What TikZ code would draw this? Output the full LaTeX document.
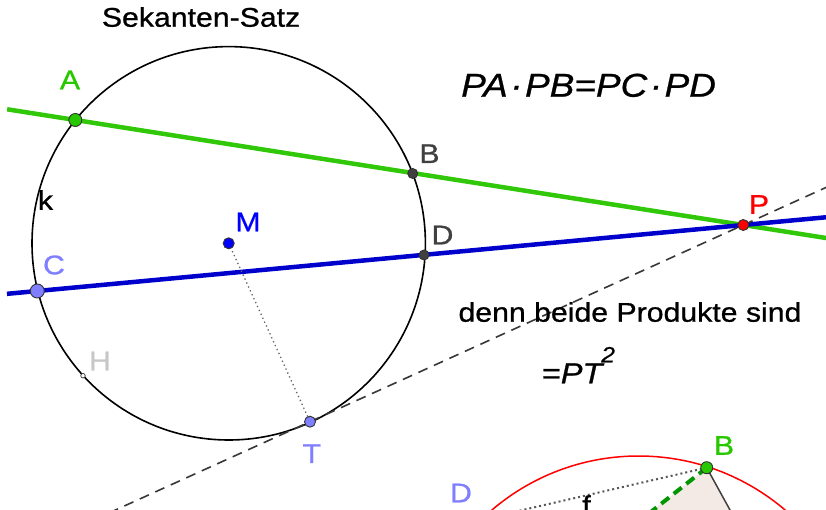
\documentclass[tikz,border=0pt]{standalone}
\usepackage{fontspec}
\newfontfamily\geofont[FakeStretch=1.12,FakeBold=0.8]{Liberation Sans}
\usetikzlibrary{calc}
\definecolor{secgreen}{RGB}{50,200,10}
\definecolor{secblue}{RGB}{0,0,205}
\definecolor{ptgreen}{RGB}{40,200,0}
\definecolor{ptdark}{RGB}{64,64,64}
\definecolor{ptlight}{RGB}{127,127,255}
\definecolor{chordgreen}{RGB}{0,150,0}
\definecolor{wedgefill}{RGB}{243,233,229}
\begin{document}
\begin{tikzpicture}[x=1pt,y=-1pt,
  pnt/.style={circle,draw=black!80,line width=0.9pt,fill=#1,inner sep=0pt,minimum size=10pt},
  lbl/.style={font={\geofont\fontsize{27}{30}\selectfont},inner sep=0pt},
  txt/.style={font={\geofont\fontsize{27}{30}\selectfont},inner sep=0pt,anchor=base west},
  secant/.style={line width=4.5pt,#1},
  tangent/.style={line width=1.6pt,black!78,dash pattern=on 10pt off 7pt},
  radius line/.style={line width=1.3pt,black!60,dash pattern=on 1.3pt off 3pt}]
\clip (0,0) rectangle (826,510);
\fill[white] (0,0) rectangle (826,510);
\coordinate (M) at (228.7,243.3);
\coordinate (A) at (75.3,120);
\coordinate (B) at (412.7,173.5);
\coordinate (C) at (37.3,291);
\coordinate (D) at (424,255);
\coordinate (P) at (743.3,225);
\coordinate (T) at (310,421.7);
\coordinate (H) at (83,375.7);
\draw[line width=1.6pt] (M) circle[radius=196.7];
\draw[secant=secgreen] ($(A)!-0.102!(P)$) -- ($(P)!-0.124!(A)$);
\draw[secant=secblue] ($(C)!-0.043!(P)$) -- ($(P)!-0.117!(C)$);
\draw[tangent] ($(T)!-0.5!(P)$) -- ($(P)!-0.3!(T)$);
\draw[radius line] (M) -- (T);
\node[pnt=ptgreen,minimum size=13pt] (pA) at (A) {};
\node[pnt=ptdark,minimum size=10pt] (pB) at (B) {};
\node[pnt=ptdark,minimum size=10pt] (pD) at (D) {};
\node[pnt=ptlight,minimum size=14pt] (pC) at (C) {};
\node[pnt=ptlight,minimum size=11pt] (pT) at (T) {};
\node[pnt=blue,minimum size=11pt] (pM) at (M) {};
\node[pnt=red,minimum size=11pt] (pP) at (P) {};
\node[pnt=white,minimum size=4.5pt,line width=0.7pt] (pH) at (H) {};
\node[lbl,text=ptgreen] (lA) at (70,80) {A};
\node[lbl,text=ptdark] (lB) at (429.5,153.7) {B};
\node[lbl] (lk) at (45.5,200) {k};
\node[lbl,text=blue] (lM) at (248,222) {M};
\node[lbl,text=ptdark] (lD) at (442.5,235) {D};
\node[lbl,text=red] (lP) at (759,204.5) {P};
\node[lbl,text=ptlight] (lC) at (54,265) {C};
\node[lbl,text=black!22] (lH) at (100,361) {H};
\node[lbl,text=ptlight] (lT) at (311.7,453.7) {T};
\node[txt] (title) at (101.7,26.7) {Sekanten-Satz};
\node[txt,font={\geofont\fontsize{33}{36}\selectfont\itshape}] (law) at (461,96.7)
  {PA\kern2.5pt·\kern2.5pt PB=PC\kern2.5pt·\kern2.5pt PD};
\node[txt] (note) at (458.3,321.7) {denn beide Produkte sind};
\node[txt,font={\geofont\fontsize{29}{32}\selectfont}] (square) at (541.7,383.3)
  {=\textit{PT}\kern-3pt\raisebox{21pt}{\fontsize{22}{22}\selectfont\itshape 2}};
\coordinate (Q) at (638.5,682);
\coordinate (B2) at (706.7,467.7);
\coordinate (G2) at ($(B2)!2!(653.3,510)$);
\coordinate (K2) at ($(B2)!2!(730,510)$);
\coordinate (F2) at ($(B2)!1.4!(530,508.3)$);
\fill[wedgefill] (B2) -- (G2) -- (K2) -- cycle;
\draw[red,line width=1.5pt] (Q) circle[radius=226];
\draw[line width=2pt,black!65,dash pattern=on 2pt off 3pt] (B2) -- (F2);
\draw[line width=1.5pt,black!75] (B2) -- (K2);
\draw[line width=4pt,chordgreen,dash pattern=on 10pt off 6pt] (B2) -- (G2);
\node[pnt=ptgreen,minimum size=12pt] (pB2) at (B2) {};
\node[lbl,text=ptgreen] (lB2) at (724,445.5) {B};
\node[lbl,text=ptlight] (lD2) at (461,493) {D};
\node[lbl,anchor=north] (lf) at (586.5,495) {f};
\end{tikzpicture}
\end{document}
